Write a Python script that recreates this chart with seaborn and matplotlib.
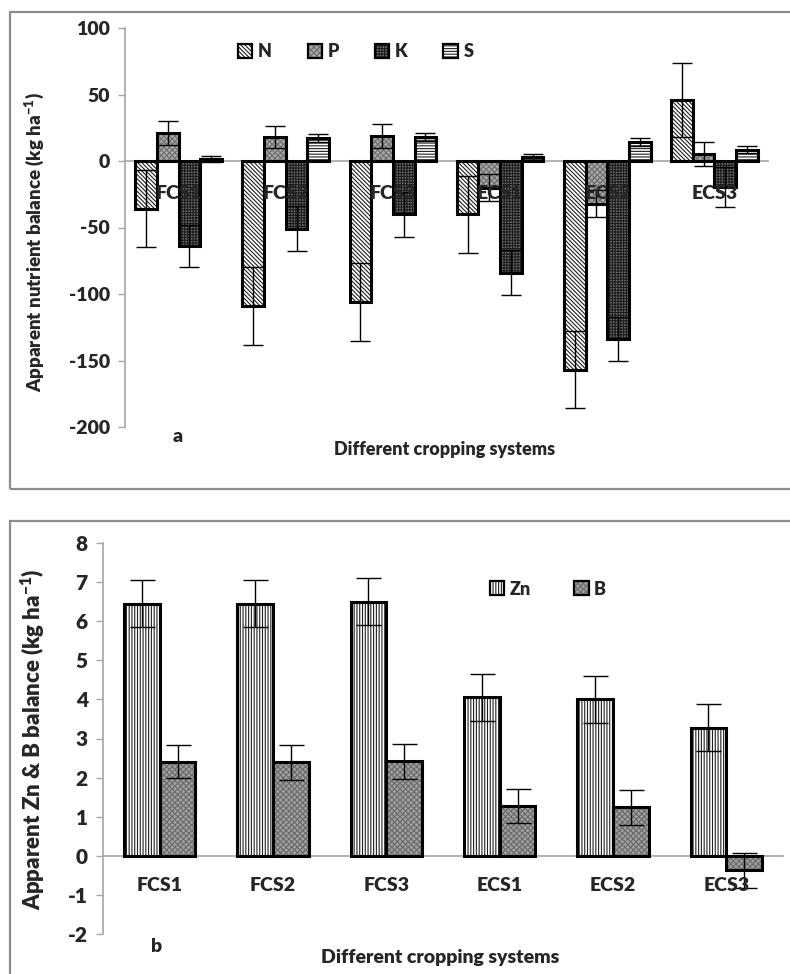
import numpy as np
import pandas as pd
import matplotlib
matplotlib.use("Agg")
import matplotlib.pyplot as plt
import seaborn as sns
from matplotlib import font_manager as fm
from matplotlib.patches import Patch, Rectangle
from matplotlib.legend_handler import HandlerTuple

SYSTEMS = ["FCS1", "FCS2", "FCS3", "ECS1", "ECS2", "ECS3"]

# panel a: apparent N, P, K, S balance (kg/ha)
N_VAL = [-36, -109, -106, -40, -157, 46]
N_ERR = [29, 29, 29, 29, 29, 28]
P_VAL = [21, 18, 19, -20, -32, 5]
P_ERR = [9, 8.5, 9, 10, 10, 9]
K_VAL = [-64, -51, -40, -84, -134, -19.5]
K_ERR = [16, 17, 17, 17, 16.5, 15]
S_VAL = [1.5, 17, 18, 3, 14, 8.5]
S_ERR = [2.5, 3, 3, 2.5, 3, 2.5]

# panel b: apparent Zn and B balance (kg/ha)
ZN_VAL = [6.45, 6.45, 6.5, 4.05, 4.0, 3.28]
ZN_ERR = [0.6, 0.6, 0.6, 0.6, 0.6, 0.6]
B_VAL = [2.41, 2.39, 2.42, 1.27, 1.24, -0.37]
B_ERR = [0.43, 0.45, 0.45, 0.44, 0.44, 0.45]

A_TICKS = [-200, -150, -100, -50, 0, 50, 100]
B_TICKS = [-2, -1, 0, 1, 2, 3, 4, 5, 6, 7, 8]

STYLES = {
    "N": {"face": "white", "hatch": "\\" * 8, "hcol": "#202020"},
    "P": {"face": "#a8a8a8", "hatch": "xxxxxx", "hcol": "#6e6e6e"},
    "K": {"face": "#6e6e6e", "hatch": "++++++", "hcol": "#1c1c1c"},
    "S": {"face": "white", "hatch": "------", "hcol": "#202020"},
    "Zn": {"face": "white", "hatch": "||||||", "hcol": "#202020"},
    "B": {"face": "#a0a0a0", "hatch": "xxxxxx", "hcol": "#6a6a6a"},
}
GRID = "#a6a6a6"
WEIGHT = "heavy"


def pick_font():
    # first sans family that really has a bold face installed
    for fam in ["Lato", "Open Sans", "Noto Sans", "Roboto"]:
        try:
            path = fm.findfont(fm.FontProperties(family=fam, weight="bold"),
                               fallback_to_default=False)
        except Exception:
            continue
        if "bold" in path.lower():
            return fam
    return "DejaVu Sans"


sns.set_style("white")
BOLD = pick_font()
FONT = [BOLD, "DejaVu Sans"]
plt.rcParams["font.family"] = FONT
plt.rcParams["font.weight"] = WEIGHT
plt.rcParams["mathtext.fontset"] = "custom"
plt.rcParams["mathtext.rm"] = f"{BOLD}:{WEIGHT}"
plt.rcParams["mathtext.bf"] = f"{BOLD}:{WEIGHT}"
plt.rcParams["hatch.linewidth"] = 0.8


def long_frame(series):
    rows = []
    for key, (vals, errs) in series.items():
        for s, v, e in zip(SYSTEMS, vals, errs):
            rows.append({"system": s, "element": key, "value": v, "err": e})
    return pd.DataFrame(rows)


def draw_panel(ax, series, width, capsize, ticks, pad, ytick_size):
    df = long_frame(series)
    order = list(series.keys())
    faces = {k: STYLES[k]["face"] for k in order}
    sns.barplot(data=df, x="system", y="value", hue="element", order=SYSTEMS,
                hue_order=order, palette=faces, width=width, errorbar=None,
                saturation=1, linewidth=0, legend=False, ax=ax, zorder=2)
    for cont, key in zip(ax.containers, order):
        for bar in cont:
            bar.set_hatch(STYLES[key]["hatch"])
            bar.set_edgecolor(STYLES[key]["hcol"])
            bar.set_linewidth(0)
    # error bars at bar centres
    for cont, key in zip(list(ax.containers)[:len(order)], order):
        xs = [b.get_x() + b.get_width() / 2 for b in cont]
        ax.errorbar(xs, series[key][0], yerr=series[key][1], fmt="none",
                    ecolor="black", elinewidth=1, capsize=capsize, capthick=1,
                    zorder=4)
    # black outlines on top
    sns.barplot(data=df, x="system", y="value", hue="element", order=SYSTEMS,
                hue_order=order, palette={k: "black" for k in order}, width=width,
                errorbar=None, fill=False, linewidth=2.2, legend=False, ax=ax,
                zorder=3)

    ax.set_xlim(-0.5, len(SYSTEMS) - 0.5)
    ax.set_ylim(ticks[0], ticks[-1])
    ax.tick_params(axis="x", which="major", length=0, pad=pad, labelsize=14)
    ax.tick_params(axis="x", which="minor", length=6, color=GRID, width=1,
                   direction="out")
    ax.tick_params(axis="y", length=5, color=GRID, width=1, direction="out",
                   pad=6, left=True, labelsize=ytick_size)
    ax.set_yticks(ticks)
    ax.set_yticklabels([str(t) for t in ticks], fontsize=ytick_size,
                       fontweight=WEIGHT)
    ax.set_xticks(range(len(SYSTEMS)))
    ax.set_xticklabels(SYSTEMS, fontsize=14, fontweight=WEIGHT)
    ax.set_xticks(np.arange(-0.5, len(SYSTEMS), 1), minor=True)
    ax.xaxis.set_zorder(5)
    ax.spines["bottom"].set_position(("data", 0))
    for side in ("top", "right"):
        ax.spines[side].set_visible(False)
    for side in ("left", "bottom"):
        ax.spines[side].set_color(GRID)
        ax.spines[side].set_linewidth(1.2)
        ax.spines[side].set_zorder(1)
    ax.set_xlabel("")
    ax.set_ylabel("")

    handles = [(Patch(facecolor=STYLES[k]["face"], hatch=STYLES[k]["hatch"],
                      edgecolor=STYLES[k]["hcol"], linewidth=0),
                Patch(fill=False, edgecolor="black", linewidth=1.6))
               for k in order]
    return handles, order


fig = plt.figure(figsize=(7.9, 9.74), dpi=100)

# outer frames of both panels
fig.patches.append(Rectangle((10 / 790, 1 - 489 / 974), 0.99, (489 - 12) / 974,
                             transform=fig.transFigure, fill=False,
                             edgecolor="#8c8c8c", linewidth=1.6, zorder=0))
fig.patches.append(Rectangle((10 / 790, -0.05), 0.99, 0.05 + (974 - 521) / 974,
                             transform=fig.transFigure, fill=False,
                             edgecolor="#8c8c8c", linewidth=1.6, zorder=0))

ax_a = fig.add_axes([125 / 790, 1 - 427 / 974, 643 / 790, 399 / 974])
ax_a.patch.set_alpha(0)
h_a, l_a = draw_panel(ax_a, {"N": (N_VAL, N_ERR), "P": (P_VAL, P_ERR),
                             "K": (K_VAL, K_ERR), "S": (S_VAL, S_ERR)},
                      width=0.81, capsize=7, ticks=A_TICKS, pad=17,
                      ytick_size=14)
ax_a.legend(h_a, l_a, handler_map={tuple: HandlerTuple(ndivide=1)},
            loc="center left", bbox_to_anchor=(0.15, 0.94), ncol=4,
            frameon=False, handlelength=0.8, handleheight=0.8,
            handletextpad=0.3, columnspacing=2.0,
            prop={"family": FONT, "weight": WEIGHT, "size": 13})

ax_b = fig.add_axes([103 / 790, 1 - 934 / 974, 680 / 790, 391 / 974])
ax_b.patch.set_alpha(0)
h_b, l_b = draw_panel(ax_b, {"Zn": (ZN_VAL, ZN_ERR), "B": (B_VAL, B_ERR)},
                      width=0.63, capsize=9, ticks=B_TICKS, pad=15,
                      ytick_size=15)
ax_b.legend(h_b, l_b, handler_map={tuple: HandlerTuple(ndivide=1)},
            loc="center left", bbox_to_anchor=(0.545, 0.882), ncol=2,
            frameon=False, handlelength=0.8, handleheight=0.8,
            handletextpad=0.3, columnspacing=2.4,
            prop={"family": FONT, "weight": WEIGHT, "size": 13})

# panel letters, axis titles
fig.text(178 / 790, 1 - 436 / 974, "a", ha="center", va="center",
         fontsize=14, fontweight=WEIGHT)
fig.text(445 / 790, 1 - 449 / 974, "Different cropping systems", ha="center",
         va="center", fontsize=13, fontweight=WEIGHT)
fig.text(35 / 790, 1 - 242 / 974,
         r"Apparent nutrient balance (kg ha$^{\mathbf{-1}}$)", rotation=90,
         ha="center", va="center", fontsize=13.5, fontweight=WEIGHT)

fig.text(157 / 790, 1 - 946 / 974, "b", ha="center", va="center",
         fontsize=14, fontweight=WEIGHT)
fig.text(440 / 790, 1 - 958 / 974, "Different cropping systems", ha="center",
         va="center", fontsize=14, fontweight=WEIGHT)
fig.text(33 / 790, 1 - 739 / 974,
         r"Apparent Zn & B balance (kg ha$^{\mathbf{-1}}$)", rotation=90,
         ha="center", va="center", fontsize=16, fontweight=WEIGHT)

fig.savefig("out.png", dpi=100)
